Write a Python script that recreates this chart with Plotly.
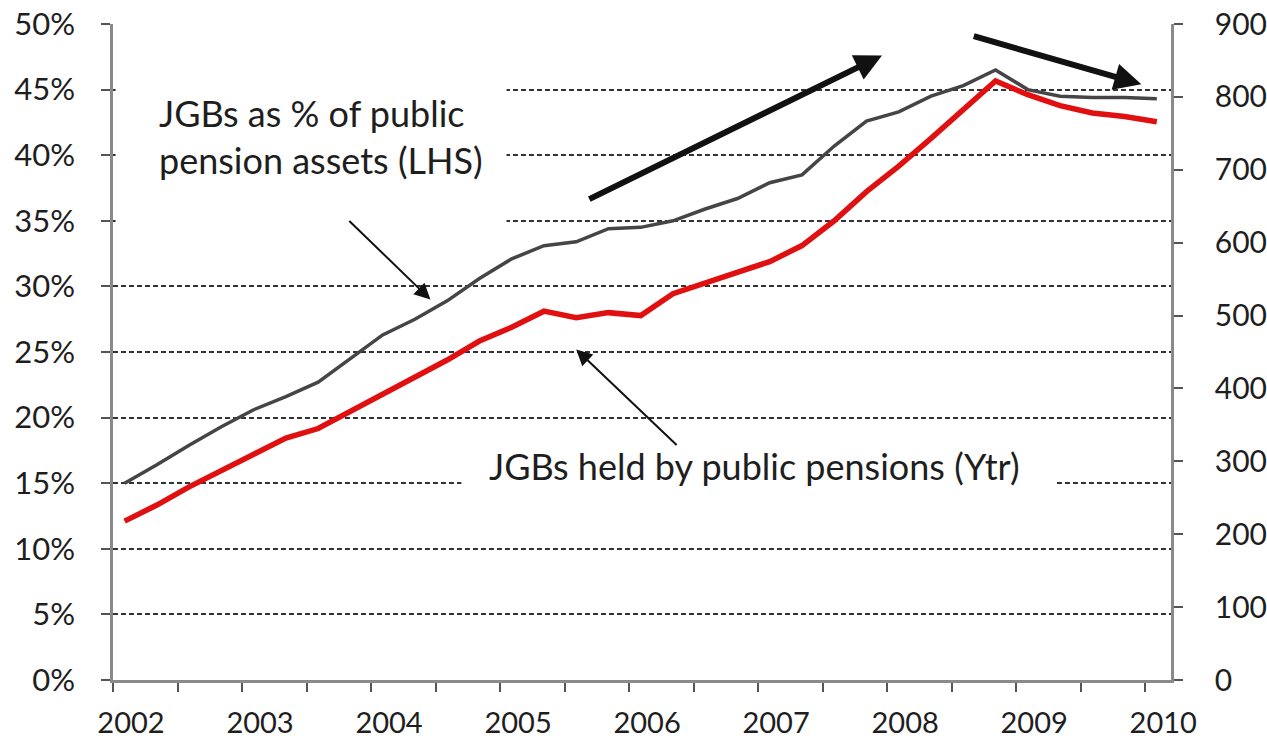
import plotly.graph_objects as go

# ---- data (quarterly) ----
periods = ["2002Q1","2002Q2","2002Q3","2002Q4","2003Q1","2003Q2","2003Q3","2003Q4",
           "2004Q1","2004Q2","2004Q3","2004Q4","2005Q1","2005Q2","2005Q3","2005Q4",
           "2006Q1","2006Q2","2006Q3","2006Q4","2007Q1","2007Q2","2007Q3","2007Q4",
           "2008Q1","2008Q2","2008Q3","2008Q4","2009Q1","2009Q2","2009Q3","2009Q4",
           "2010Q1"]
jgb_share_pct = [15.0,16.4,17.9,19.3,20.6,21.6,22.7,24.5,26.3,27.5,28.9,30.6,32.1,33.1,33.4,34.4,
                 34.5,35.0,35.9,36.7,37.9,38.5,40.7,42.6,43.3,44.5,45.3,46.5,45.0,44.5,44.4,44.4,44.3]
jgb_held_ytr = [218,240,265,287,310,332,345,368,392,415,439,465,484,506,497,504,
                500,530,545,559,574,596,630,670,705,743,783,822,803,788,778,773,766]
year_labels = ["2002","2003","2004","2005","2006","2007","2008","2009","2010"]
left_ticks = [0,5,10,15,20,25,30,35,40,45,50]
right_ticks = [0,100,200,300,400,500,600,700,800,900]

def period_pos(p):
    return int(p[:4]) + (int(p[-1]) - 1) * 0.25 + 0.09

xpos = [period_pos(p) for p in periods]

FONT = "Lato"
TXT = "#1e1e1e"

fig = go.Figure()
fig.add_trace(go.Scatter(x=xpos, y=jgb_share_pct, mode="lines", yaxis="y",
                         line=dict(color="#454548", width=3.5), name="JGBs as % of public pension assets (LHS)"))
fig.add_trace(go.Scatter(x=xpos, y=jgb_held_ytr, mode="lines", yaxis="y2",
                         line=dict(color="#e01010", width=5.5), name="JGBs held by public pensions (Ytr)"))

fig.update_layout(
    width=1267, height=743,
    margin=dict(l=113, r=96, t=24, b=63),
    paper_bgcolor="white", plot_bgcolor="white",
    showlegend=False,
    font=dict(family=FONT, color=TXT, size=28),
    xaxis=dict(range=[2002, 2010.2], tickmode="array", automargin=False,
               tickvals=[int(y) for y in year_labels], ticktext=year_labels,
               ticks="outside", ticklen=9, tickwidth=2, tickcolor="#555",
               ticklabelshift=18, ticklabelstandoff=6,
               minor=dict(dtick=0.5, tick0=2002, ticks="outside", ticklen=9, tickwidth=2,
                          tickcolor="#555", showgrid=False),
               showline=True, linecolor="#8a8a8a", linewidth=2.5,
               showgrid=False, zeroline=False, tickfont=dict(size=29, color=TXT)),
    yaxis=dict(range=[0, 50], tickvals=left_ticks, ticktext=[f"{v}%" for v in left_ticks],
               automargin=False,
               ticks="outside", ticklen=9, tickwidth=2, tickcolor="#555",
               ticklabelstandoff=20,
               showline=True, linecolor="#8a8a8a", linewidth=2.5,
               showgrid=True, gridcolor="#333333", gridwidth=1.8, griddash="5px,3px",
               zeroline=False, tickfont=dict(size=31, color=TXT)),
    yaxis2=dict(range=[0, 900], tickvals=right_ticks, overlaying="y", side="right",
                automargin=False,
                ticks="outside", ticklen=9, tickwidth=2, tickcolor="#555",
                ticklabelstandoff=26,
                showline=True, linecolor="#8a8a8a", linewidth=2.5,
                showgrid=False, zeroline=False, tickfont=dict(size=30, color=TXT)),
)

# white backgrounds behind the labels (they hide the gridlines, not the lines)
fig.add_shape(type="rect", xref="x", yref="y", x0=2002.02, x1=2005.05, y0=33.3, y1=47.2,
              fillcolor="white", line=dict(width=0), layer="between")
fig.add_shape(type="rect", xref="x", yref="y", x0=2004.7, x1=2009.3, y0=13.5, y1=17.5,
              fillcolor="white", line=dict(width=0), layer="between")

fig.add_annotation(x=2002.34, y=41.4, xref="x", yref="y", xanchor="left", yanchor="middle",
                   align="left", showarrow=False,
                   text="JGBs as % of public<br>pension assets (LHS)",
                   font=dict(family=FONT, size=36, color=TXT))
fig.add_annotation(x=2004.9, y=16.3, xref="x", yref="y", xanchor="left", yanchor="middle",
                   showarrow=False, text="JGBs held by public pensions (Ytr)",
                   font=dict(family=FONT, size=36, color=TXT))

# arrows (head at x,y ; tail at ax,ay)
arrows = [
    dict(x=2004.46, y=29.0, ax=2003.82, ay=35.1, w=2, s=1.6),
    dict(x=2005.59, y=25.2, ax=2006.38, ay=17.8, w=2, s=1.6),
    dict(x=2007.96, y=47.6, ax=2005.68, ay=36.6, w=6, s=0.9),
    dict(x=2009.97, y=45.4, ax=2008.66, ay=49.1, w=6, s=0.9),
]
for a in arrows:
    fig.add_annotation(x=a["x"], y=a["y"], ax=a["ax"], ay=a["ay"], xref="x", yref="y",
                       axref="x", ayref="y", text="", showarrow=True, arrowhead=2,
                       arrowwidth=a["w"], arrowsize=a["s"], arrowcolor="#111")

fig.write_html("out.html")
